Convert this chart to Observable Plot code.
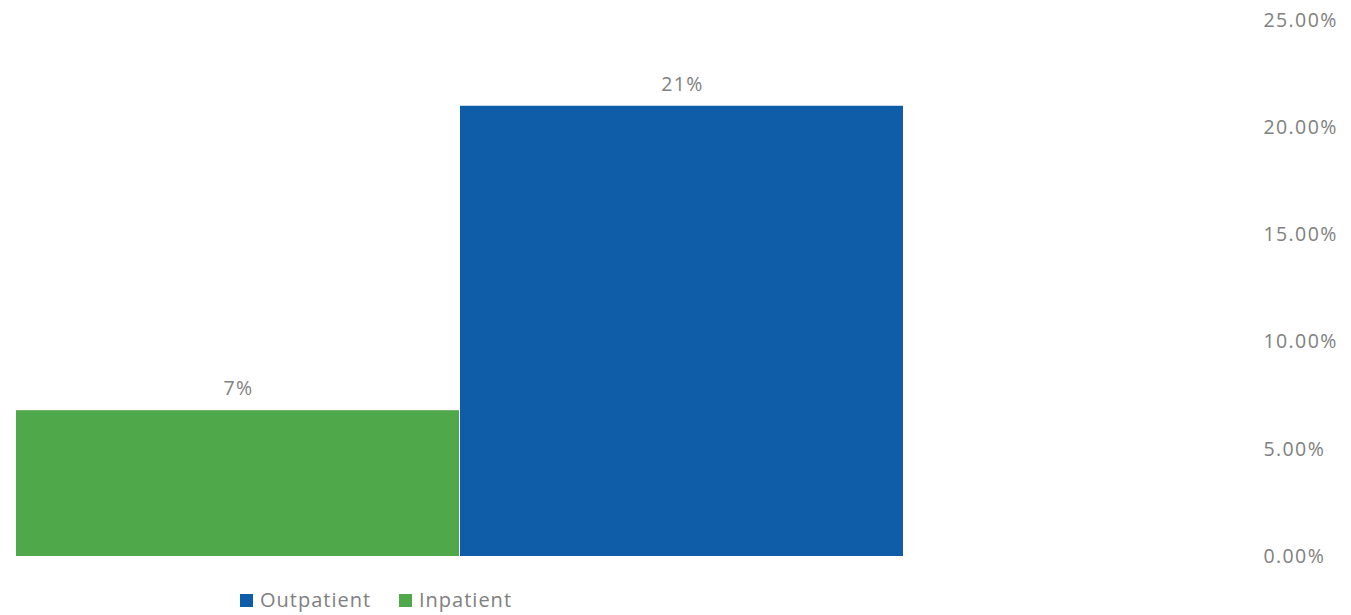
<!DOCTYPE html>
<html>
<head>
<meta charset="utf-8">
<script src="https://cdn.jsdelivr.net/npm/d3@7"></script>
<script src="https://cdn.jsdelivr.net/npm/@observablehq/plot@0.6"></script>
<style>
  body { margin: 0; background: #fff; font-family: "Open Sans", sans-serif; }
  #chart svg { display: block; }
  .legend { position: relative; height: 30px; font-size: 20px; color: #808080; letter-spacing: 1px; }
  .legend .item { position: absolute; top: 2px; display: flex; align-items: center; line-height: 26px; }
  .legend .sw { width: 13px; height: 13px; margin-right: 7px; }
</style>
</head>
<body>
<div id="chart"></div>
<div class="legend" id="legend"></div>
<script>
const categories = ["Inpatient", "Outpatient"];
const values = [0.068, 0.21];
const colors = ["#4fa84a", "#0f5da8"];
const yTicks = [0, 0.05, 0.10, 0.15, 0.20, 0.25];
const legendOrder = ["Outpatient", "Inpatient"];

const data = categories.map((c, i) => ({category: c, value: values[i]}));

const plot = Plot.plot({
  width: 1351,
  height: 585,
  marginTop: 20,
  marginBottom: 29,
  marginLeft: 16,
  marginRight: 447,
  style: {fontFamily: "Open Sans, sans-serif", color: "#808080", background: "#fff"},
  x: {domain: categories, padding: 0, axis: null},
  y: {domain: [0, 0.25]},
  color: {domain: categories, range: colors},
  marks: [
    Plot.barY(data, {x: "category", y: "value", fill: "category", insetLeft: 0, insetRight: 1}),
    Plot.text(data, {x: "category", y: "value", text: d => d3.format(".0%")(d.value), dy: -22, fontSize: 19.5, fill: "#808080"}),
    Plot.axisY({anchor: "right", ticks: yTicks, tickFormat: d3.format(".2%"), tickSize: 0, tickPadding: 0, dx: 359, fontSize: 19.5, label: null, fill: "#808080", textAnchor: "start"})
  ]
});
plot.querySelectorAll("text").forEach(t => t.style.letterSpacing = "1.4px");
document.getElementById("chart").appendChild(plot);

const legend = document.getElementById("legend");
const lx = [240, 399];
legendOrder.forEach((name, i) => {
  const item = document.createElement("div");
  item.className = "item";
  item.style.left = lx[i] + "px";
  const sw = document.createElement("span");
  sw.className = "sw";
  sw.style.background = colors[categories.indexOf(name)];
  item.appendChild(sw);
  const t = document.createElement("span");
  t.textContent = name;
  item.appendChild(t);
  legend.appendChild(item);
});
</script>
</body>
</html>
